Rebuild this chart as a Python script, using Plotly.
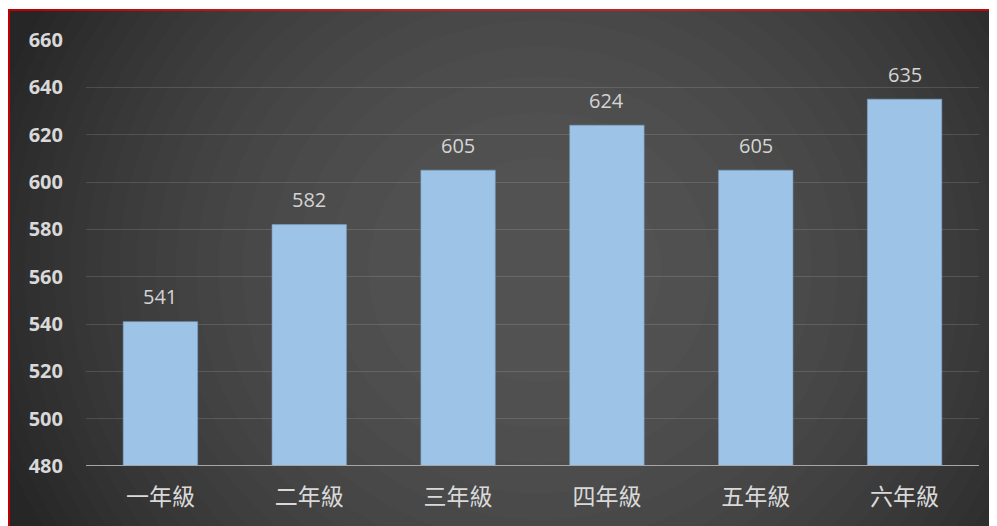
import plotly.graph_objects as go

categories = ["一年級", "二年級", "三年級", "四年級", "五年級", "六年級"]
values = [541, 582, 605, 624, 605, 635]
y_ticks = [480, 500, 520, 540, 560, 580, 600, 620, 640, 660]

# page has an 8px body margin, so figure coords = page coords - 8
OFF = 8
W, H = 997, 526
L, R, T, B = 78, 26, 32, 68
pw, ph = W - L - R, H - T - B

def px_x(x):
    # x given in page pixels
    return (x - OFF - L) / pw

def px_y(y):
    return (H - B - (y - OFF)) / ph

shapes = []
# dark background with red border
shapes.append(dict(type="rect", xref="paper", yref="paper",
                   x0=px_x(9), x1=px_x(1010), y0=px_y(540), y1=px_y(10),
                   fillcolor="#262626", line=dict(color="#c00000", width=2),
                   layer="below"))
# radial gradient approximation (quadratic fall-off)
cx, cy = 540, 270
N = 22
rmax = 570
for i in range(N):
    r = rmax * (1 - i / N) ** 0.5
    shapes.append(dict(type="circle", xref="paper", yref="paper",
                       x0=px_x(cx - r), x1=px_x(cx + r),
                       y0=px_y(cy + r * 0.92), y1=px_y(cy - r * 0.92),
                       fillcolor="rgba(255,255,255,0.0135)", line=dict(width=0),
                       layer="below"))

fig = go.Figure()
fig.add_trace(go.Bar(
    x=categories, y=values,
    marker=dict(color="#9DC3E6", line=dict(color="#7d9fc2", width=0.6)),
    width=0.5,
))

annotations = [dict(x=c, y=v, text=str(v), showarrow=False, yshift=25,
                    font=dict(family="Open Sans", size=20, color="#d4d4d4"))
               for c, v in zip(categories, values)]

fig.update_layout(
    width=W, height=H,
    margin=dict(l=L, r=R, t=T, b=B),
    paper_bgcolor="white",
    plot_bgcolor="rgba(0,0,0,0)",
    showlegend=False,
    shapes=shapes,
    annotations=annotations,
    xaxis=dict(
        tickfont=dict(family="Noto Sans CJK TC", size=23, color="#d9d9d9"),
        showgrid=False, showline=False, ticks="",
        ticklabelstandoff=15,
    ),
    yaxis=dict(
        range=[480, 660], tickvals=y_ticks,
        tickfont=dict(family="Open Sans", size=20, color="#d9d9d9", weight="bold"),
        showgrid=True, gridcolor="rgba(255,255,255,0.13)", gridwidth=1.3,
        zeroline=False, showline=False, ticks="",
        ticklabelstandoff=22,
    ),
)
# baseline axis line at 480
fig.add_shape(type="line", xref="paper", yref="y", x0=0, x1=1, y0=480, y1=480,
              line=dict(color="#a6a6a6", width=2), layer="above")

fig.write_html("out.html")
